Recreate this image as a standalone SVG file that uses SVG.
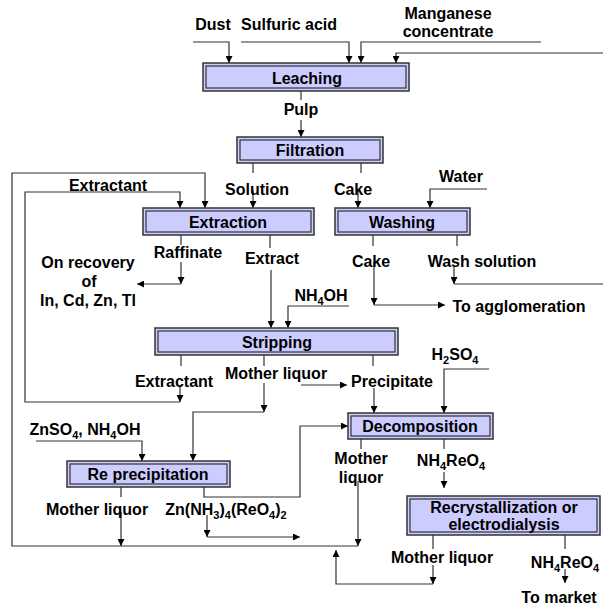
<svg xmlns="http://www.w3.org/2000/svg" width="603" height="608" viewBox="0 0 603 608">
<defs>
<style>
.t{font-family:"Liberation Sans",Arial,sans-serif;font-weight:bold;font-size:16px;fill:#000;text-anchor:middle}
.s{font-size:11px}
.box{fill:#ccccff;stroke:#333;stroke-width:1.5}
.inner{fill:none;stroke:#333;stroke-width:1.2}
.c{fill:none;stroke:#333;stroke-width:1.2}
.a{marker-end:url(#arr)}
</style>
<marker id="arr" viewBox="0 0 10 10" refX="10" refY="5" markerWidth="7" markerHeight="7" markerUnits="userSpaceOnUse" orient="auto"><path d="M0,0 L10,5 L0,10 z" fill="#000"/></marker>
</defs>
<rect width="603" height="608" fill="#fff"/>

<g id="connectors">
<polyline class="c a" points="193,42 229,42 229,63"/>
<polyline class="c a" points="241,42 349,42 349,63"/>
<polyline class="c a" points="541,42 361,42 361,63"/>
<polyline class="c a" points="603,53 396,53 396,63"/>
<line class="c" x1="301" y1="91" x2="301" y2="100"/>
<line class="c a" x1="301" y1="120" x2="301" y2="137"/>
<line class="c" x1="253" y1="163" x2="253" y2="173"/>
<line class="c a" x1="253" y1="190" x2="253" y2="208"/>
<line class="c" x1="361" y1="163" x2="361" y2="173"/>
<line class="c a" x1="358" y1="190" x2="358" y2="208"/>
<polyline class="c a" points="487,189 430,189 430,208"/>
<polyline class="c a" points="358,546 12,546 12,173 205,173 205,208"/>
<polyline class="c a" points="180,402 25,402 25,192 180,192 180,208"/>
<line class="c" x1="181" y1="235" x2="181" y2="245"/>
<line class="c a" x1="181" y1="262" x2="181" y2="284"/>
<line class="c a" x1="181" y1="284" x2="137" y2="284"/>
<line class="c" x1="270" y1="235" x2="270" y2="248"/>
<line class="c a" x1="271" y1="270" x2="271" y2="328"/>
<polyline class="c a" points="349,306 288,306 288,328"/>
<line class="c" x1="373" y1="235" x2="373" y2="246"/>
<line class="c a" x1="374" y1="262" x2="374" y2="305"/>
<line class="c a" x1="374" y1="305" x2="445" y2="305"/>
<line class="c" x1="457" y1="235" x2="457" y2="246"/>
<line class="c a" x1="454" y1="267" x2="454" y2="284"/>
<line class="c" x1="454" y1="284" x2="603" y2="284"/>
<line class="c" x1="181" y1="355" x2="181" y2="366"/>
<line class="c a" x1="180" y1="386" x2="180" y2="402"/>
<line class="c" x1="264" y1="355" x2="264" y2="366"/>
<line class="c a" x1="264" y1="383" x2="264" y2="412"/>
<polyline class="c a" points="264,412 193,412 193,461"/>
<line class="c a" x1="301" y1="385" x2="347" y2="385"/>
<line class="c" x1="373" y1="355" x2="373" y2="366"/>
<line class="c a" x1="374" y1="388" x2="374" y2="413"/>
<polyline class="c a" points="489,369 444,369 444,413"/>
<polyline class="c a" points="36,441 142,441 142,461"/>
<line class="c" x1="121" y1="487" x2="121" y2="497"/>
<line class="c a" x1="121" y1="512" x2="121" y2="546"/>
<polyline class="c a" points="204,487 204,497 300,497 300,426 348,426"/>
<line class="c a" x1="207" y1="515" x2="207" y2="537"/>
<line class="c a" x1="207" y1="537" x2="300" y2="537"/>
<line class="c" x1="361" y1="439" x2="361" y2="449"/>
<line class="c a" x1="358" y1="481" x2="358" y2="546"/>
<line class="c" x1="444" y1="439" x2="444" y2="449"/>
<line class="c a" x1="444" y1="472" x2="444" y2="488"/>
<line class="c" x1="433" y1="535" x2="433" y2="549"/>
<line class="c a" x1="433" y1="565" x2="433" y2="584"/>
<polyline class="c a" points="433,584 336,584 336,550"/>
<line class="c" x1="565" y1="535" x2="565" y2="549"/>
<line class="c a" x1="565" y1="569" x2="565" y2="583"/>
</g>

<g id="leaching">
<rect class="box" x="203" y="63" width="206" height="28"/>
<rect class="inner" x="206" y="66" width="200" height="22"/>
<text class="t" x="307" y="84">Leaching</text>
</g>
<g id="filtration">
<rect class="box" x="237" y="137" width="146" height="26"/>
<rect class="inner" x="240" y="140" width="140" height="20"/>
<text class="t" x="310" y="156">Filtration</text>
</g>
<g id="extraction">
<rect class="box" x="143" y="208" width="171" height="27"/>
<rect class="inner" x="146" y="211" width="165" height="21"/>
<text class="t" x="228" y="228">Extraction</text>
</g>
<g id="washing">
<rect class="box" x="335" y="208" width="135" height="27"/>
<rect class="inner" x="338" y="211" width="129" height="21"/>
<text class="t" x="402" y="228">Washing</text>
</g>
<g id="stripping">
<rect class="box" x="155" y="328" width="243" height="27"/>
<rect class="inner" x="158" y="331" width="237" height="21"/>
<text class="t" x="277" y="348">Stripping</text>
</g>
<g id="decomposition">
<rect class="box" x="348" y="413" width="145" height="26"/>
<rect class="inner" x="351" y="416" width="139" height="20"/>
<text class="t" x="420" y="432">Decomposition</text>
</g>
<g id="reprecipitation">
<rect class="box" x="67" y="461" width="163" height="26"/>
<rect class="inner" x="70" y="464" width="157" height="20"/>
<text class="t" x="148" y="480">Re precipitation</text>
</g>
<g id="recrystallization">
<rect class="box" x="407" y="496" width="193" height="39"/>
<rect class="inner" x="410" y="499" width="187" height="33"/>
<text class="t" x="504" y="513">Recrystallization or</text>
<text class="t" x="504" y="530">electrodialysis</text>
</g>

<g id="labels">
<text class="t" x="213" y="30">Dust</text>
<text class="t" x="289" y="30">Sulfuric acid</text>
<text class="t" x="448" y="19">Manganese</text>
<text class="t" x="448" y="37">concentrate</text>
<text class="t" x="301" y="115">Pulp</text>
<text class="t" x="257" y="195">Solution</text>
<text class="t" x="353" y="195">Cake</text>
<text class="t" x="461" y="182">Water</text>
<text class="t" x="108" y="191">Extractant</text>
<text class="t" x="188" y="258">Raffinate</text>
<text class="t" x="272" y="264">Extract</text>
<text class="t" x="88" y="268">On recovery</text>
<text class="t" x="89" y="287">of</text>
<text class="t" x="88" y="306">In, Cd, Zn, Tl</text>
<text class="t" x="371" y="267">Cake</text>
<text class="t" x="482" y="267">Wash solution</text>
<text class="t" x="519" y="312">To agglomeration</text>
<text class="t" x="321" y="301">NH<tspan class="s" dy="4">4</tspan><tspan dy="-4">OH</tspan></text>
<text class="t" x="174" y="387">Extractant</text>
<text class="t" x="276" y="379">Mother liquor</text>
<text class="t" x="392" y="387">Precipitate</text>
<text class="t" x="455" y="360">H<tspan class="s" dy="4">2</tspan><tspan dy="-4">SO</tspan><tspan class="s" dy="4">4</tspan></text>
<text class="t" x="85" y="435">ZnSO<tspan class="s" dy="4">4</tspan><tspan dy="-4">, NH</tspan><tspan class="s" dy="4">4</tspan><tspan dy="-4">OH</tspan></text>
<text class="t" x="97" y="515">Mother liquor</text>
<text class="t" x="226" y="515">Zn(NH<tspan class="s" dy="4">3</tspan><tspan dy="-4">)</tspan><tspan class="s" dy="4">4</tspan><tspan dy="-4">(ReO</tspan><tspan class="s" dy="4">4</tspan><tspan dy="-4">)</tspan><tspan class="s" dy="4">2</tspan></text>
<text class="t" x="361" y="464">Mother</text>
<text class="t" x="361" y="483">liquor</text>
<text class="t" x="451" y="466">NH<tspan class="s" dy="4">4</tspan><tspan dy="-4">ReO</tspan><tspan class="s" dy="4">4</tspan></text>
<text class="t" x="442" y="563">Mother liquor</text>
<text class="t" x="565" y="568">NH<tspan class="s" dy="4">4</tspan><tspan dy="-4">ReO</tspan><tspan class="s" dy="4">4</tspan></text>
<text class="t" x="559" y="603">To market</text>
</g>
</svg>
